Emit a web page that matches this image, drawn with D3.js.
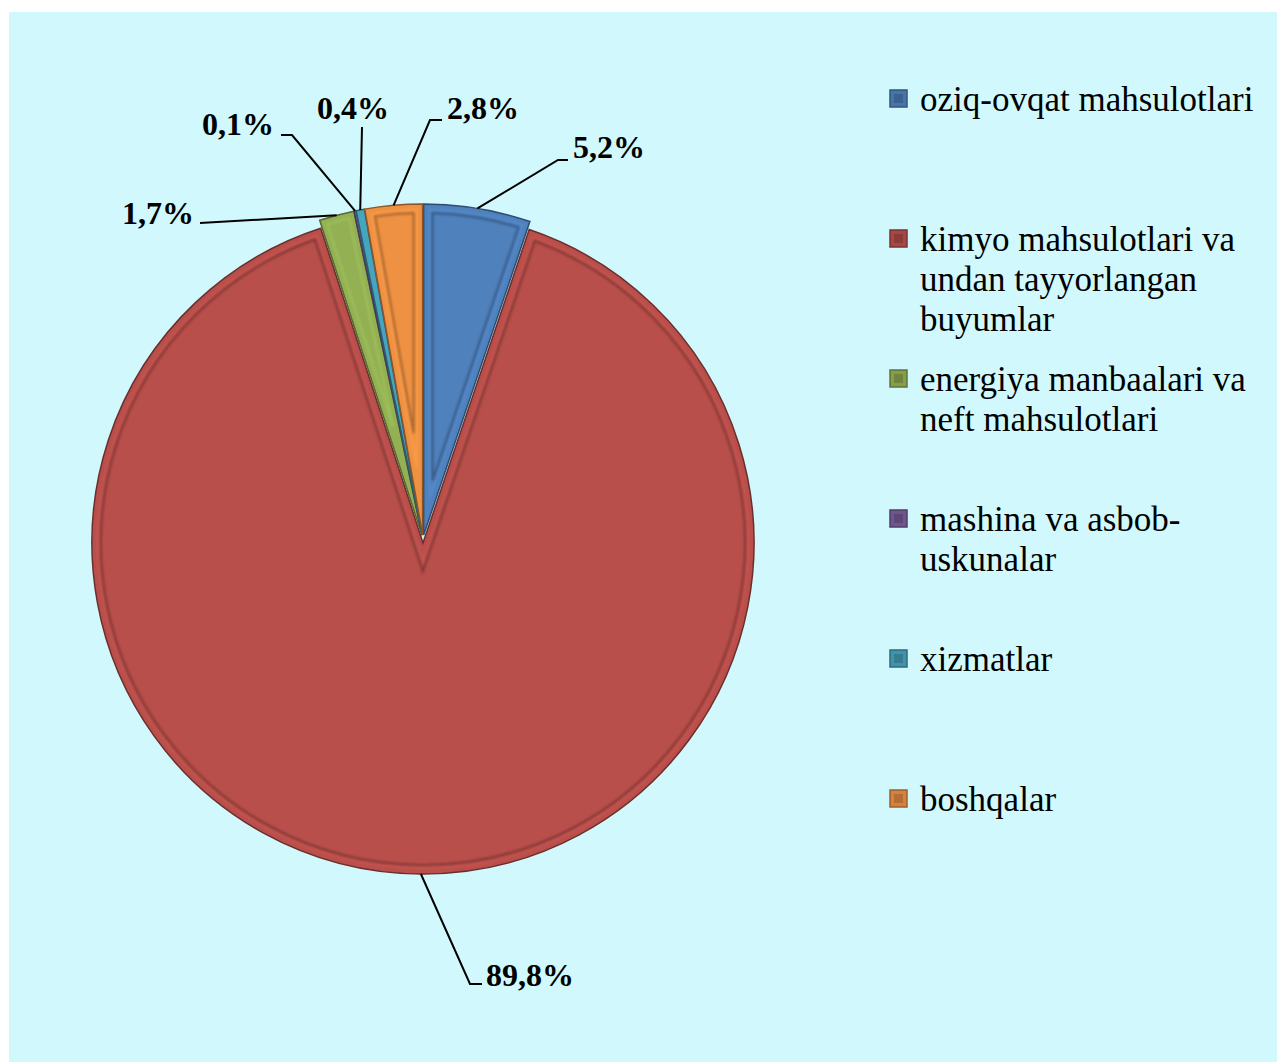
<!DOCTYPE html>
<html>
<head>
<meta charset="utf-8">
<script src="https://cdn.jsdelivr.net/npm/d3@7"></script>
<style>
html,body{margin:0;padding:0;background:#fff;}
svg{display:block;}
text{font-family:"Liberation Serif","Times New Roman",Tinos,"Nimbus Roman","FreeSerif",Times,serif;}
</style>
</head>
<body>
<svg id="chart" width="1277" height="1062"></svg>
<script>
// ---- data ----
const categories = ["oziq-ovqat mahsulotlari", "kimyo mahsulotlari va undan tayyorlangan buyumlar", "energiya manbaalari va neft mahsulotlari", "mashina va asbob-uskunalar", "xizmatlar", "boshqalar"];
const legendLines = [["oziq-ovqat mahsulotlari"], ["kimyo mahsulotlari va", "undan tayyorlangan", "buyumlar"], ["energiya manbaalari va", "neft mahsulotlari"], ["mashina va asbob-", "uskunalar"], ["xizmatlar"], ["boshqalar"]];
const values = [5.2, 89.8, 1.7, 0.1, 0.4, 2.8];
const valueLabels = ["5,2%", "89,8%", "1,7%", "0,1%", "0,4%", "2,8%"];
const colors = ["#4f81bd", "#b94f4b", "#93b153", "#7b5e9e", "#46a5be", "#ef9143"];

// ---- layout (positions, not data) ----
const cx = 423, cy = 539, R = 331, explode = 4, bevel = 9;
const labelLayout = [
  {elbow:[558,160], end:[568,160], x:573, y:158, anchor:"start"},
  {elbow:[470,984], end:[482,984], x:486, y:986, anchor:"start"},
  {elbow:[200,223], end:[200,223], x:194, y:224, anchor:"end"},
  {elbow:[292,135], end:[281,135], x:274, y:135, anchor:"end"},
  {elbow:[362,127], end:[362,127], x:353, y:119, anchor:"middle"},
  {elbow:[430,120], end:[442,120], x:447, y:119, anchor:"start"}
];

const svg = d3.select("#chart");
svg.append("rect").attr("x", 9).attr("y", 12).attr("width", 1268).attr("height", 1050).attr("fill", "#d0f8fd");

const defs = svg.append("defs");
defs.append("filter").attr("id", "blur").attr("x", "-10%").attr("y", "-10%").attr("width", "120%").attr("height", "120%")
  .append("feGaussianBlur").attr("stdDeviation", 1.3);

const pie = d3.pie().sort(null).value(d => d);
const arcs = pie(values);
const arcGen = d3.arc().innerRadius(0).outerRadius(R);

function insetPath(a0, a1, r, d) {
  const th = a1 - a0;
  if (th * r < 4 * d) return null;
  const mid = (a0 + a1) / 2;
  const dist = d / Math.sin(th / 2);
  const P = [dist * Math.sin(mid), -dist * Math.cos(mid)];
  const r2 = r - d;
  function hit(a) {
    const u = [Math.sin(a), -Math.cos(a)];
    const b = P[0] * u[0] + P[1] * u[1];
    const c = P[0] * P[0] + P[1] * P[1] - r2 * r2;
    const t = -b + Math.sqrt(b * b - c);
    return [P[0] + t * u[0], P[1] + t * u[1]];
  }
  const A = hit(a0), B = hit(a1);
  const angA = Math.atan2(A[0], -A[1]), angB = Math.atan2(B[0], -B[1]);
  let span = angB - angA;
  while (span < 0) span += 2 * Math.PI;
  const large = span > Math.PI ? 1 : 0;
  return `M${P[0]},${P[1]}L${A[0]},${A[1]}A${r2},${r2} 0 ${large} 1 ${B[0]},${B[1]}Z`;
}

const slices = svg.append("g").selectAll("g").data(arcs).join("g")
  .attr("transform", d => {
    const m = (d.startAngle + d.endAngle) / 2;
    return `translate(${cx + explode * Math.sin(m)},${cy - explode * Math.cos(m)})`;
  });

slices.append("path")
  .attr("d", arcGen)
  .attr("fill", (d, i) => colors[i])
  .attr("stroke", (d, i) => d3.color(colors[i]).darker(1.5))
  .attr("stroke-width", 1.5);

// bevel: light band highlight and inner shadow line
slices.append("path")
  .attr("d", d => insetPath(d.startAngle, d.endAngle, R, bevel - 3))
  .attr("fill", "none")
  .attr("stroke", (d, i) => d3.color(colors[i]).brighter(0.35))
  .attr("stroke-width", 2)
  .attr("opacity", 0.6)
  .attr("filter", "url(#blur)");
slices.append("path")
  .attr("d", d => insetPath(d.startAngle, d.endAngle, R, bevel))
  .attr("fill", "none")
  .attr("stroke", (d, i) => d3.color(colors[i]).darker(1.4))
  .attr("stroke-width", 2.2)
  .attr("opacity", 0.7)
  .attr("filter", "url(#blur)");

// leader lines and labels
const labels = svg.append("g");
arcs.forEach((d, i) => {
  const m = (d.startAngle + d.endAngle) / 2;
  const sx = cx + (explode + R) * Math.sin(m);
  const sy = cy - (explode + R) * Math.cos(m);
  const L = labelLayout[i];
  labels.append("path")
    .attr("d", d3.line()([[sx, sy], L.elbow, L.end]))
    .attr("fill", "none").attr("stroke", "#000").attr("stroke-width", 2);
  labels.append("text")
    .attr("x", L.x).attr("y", L.y)
    .attr("text-anchor", L.anchor)
    .attr("font-weight", "bold").attr("font-size", 32)
    .attr("fill", "#000")
    .text(valueLabels[i]);
});

// legend
const legend = svg.append("g");
const legY = d3.scaleLinear().domain([0, 1]).range([111, 251]);
categories.forEach((c, i) => {
  const y0 = legY(i);
  const col = d3.color(colors[i]);
  legend.append("rect")
    .attr("x", 890).attr("y", y0 - 21).attr("width", 17).attr("height", 17)
    .attr("fill", col.darker(0.3)).attr("stroke", col.darker(1.2)).attr("stroke-width", 1.5);
  legend.append("rect")
    .attr("x", 894).attr("y", y0 - 17).attr("width", 9).attr("height", 9)
    .attr("fill", col.darker(0.8));
  const t = legend.append("text")
    .attr("x", 920).attr("y", y0)
    .attr("font-size", 35).attr("fill", "#000");
  legendLines[i].forEach((ln, j) => {
    t.append("tspan").attr("x", 920).attr("y", y0 + j * 40).text(ln);
  });
});
</script>
</body>
</html>
